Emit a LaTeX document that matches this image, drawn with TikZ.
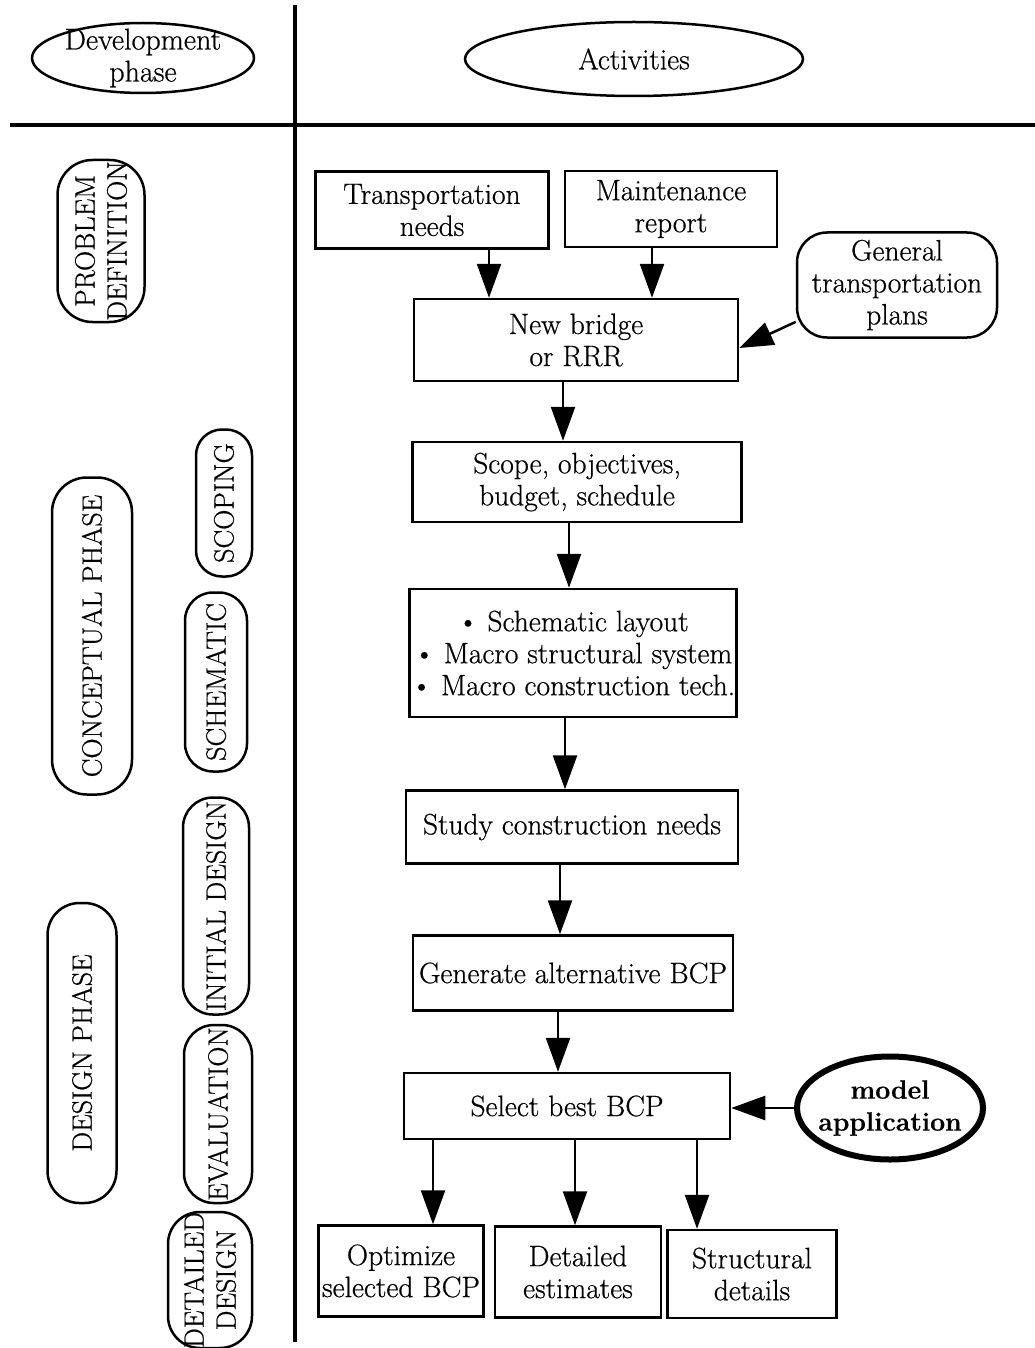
\documentclass[tikz,border=0pt]{standalone}
\usepackage{fontspec}
\setmainfont{Latin Modern Roman}[FakeBold=0.6]
\usetikzlibrary{arrows.meta}
\usetikzlibrary{shapes.geometric}
\tikzset{box/.style = {draw, line width=2.5pt, align=center, inner sep=0pt}}
\tikzset{phase/.style = {draw, line width=2.5pt, align=center, inner sep=0pt, rotate=90,
                         font=\fontsize{28}{32}\selectfont}}
\tikzset{oval/.style = {draw, ellipse, line width=2.5pt, inner sep=0pt}}
\tikzset{arr/.style = {line width=2.5pt, -{Triangle[length=34pt, width=24pt]}}}
\tikzset{sepline/.style = {line width=4.5pt}}

\begin{document}
\begin{tikzpicture}[x=1pt, y=-1pt, font=\fontsize{29.5}{32}\selectfont]
    \useasboundingbox (0, 0) rectangle (1035, 1348);

    % headings
    \draw [sepline] (295, 5) -- (295, 1342);
    \draw [sepline] (10, 125) -- (1035, 125);
    \node [oval, minimum width=222pt, minimum height=70pt,
           label={[align=center, font=\fontsize{30}{32}\selectfont]center:Development\\phase}] (devph) at (143, 58) {};
    \node [oval, minimum width=338pt, minimum height=74pt,
           label={center:Activities}] (activ) at (634, 59) {};

    % phases
    \node [phase, rounded corners=35pt, minimum width=162pt, minimum height=87pt] (probdef) at (101, 241) {PROBLEM\\DEFINITION};
    \node [phase, rounded corners=35pt, minimum width=317pt, minimum height=80pt] (concept) at (92, 636) {CONCEPTUAL PHASE};
    \node [phase, rounded corners=32pt, minimum width=300pt, minimum height=69pt] (design) at (82, 1053) {DESIGN PHASE};
    \node [phase, rounded corners=26pt, minimum width=147pt, minimum height=56pt] (scoping) at (224, 503) {SCOPING};
    \node [phase, rounded corners=28pt, minimum width=179pt, minimum height=62pt] (schematic) at (216, 682) {SCHEMATIC};
    \node [phase, rounded corners=30pt, minimum width=217pt, minimum height=66pt] (initdes) at (216, 906) {INITIAL DESIGN};
    \node [phase, rounded corners=30pt, minimum width=178pt, minimum height=68pt] (evaluat) at (218, 1114) {EVALUATION};
    \node [phase, rounded corners=32pt, minimum width=131pt, minimum height=84pt] (detdes) at (210, 1280) {DETAILED\\DESIGN};

    % activities
    \node [box, minimum width=233pt, minimum height=77pt] (tneeds) at (432, 210) {Transportation\\needs};
    \node [box, minimum width=212pt, minimum height=76pt] (maint) at (671, 209) {Maintenance\\report};
    \node [box, rounded corners=30pt, minimum width=200pt, minimum height=105pt] (general) at (897, 285) {General\\transportation\\plans};
    \node [box, minimum width=324pt, minimum height=82pt] (newbr) at (576, 340) {New bridge\\or RRR};
    \node [box, minimum width=329pt, minimum height=80pt] (scope) at (577, 482) {Scope, objectives,\\budget, schedule};
    \node [box, minimum width=327pt, minimum height=128pt] (schem) at (573, 653)
          {\textbullet{} Schematic layout\\\textbullet{} Macro structural system\\\textbullet{} Macro construction tech.};
    \node [box, minimum width=332pt, minimum height=73pt] (study) at (572, 827) {Study construction needs};
    \node [box, minimum width=320pt, minimum height=75pt] (gen) at (573, 973) {Generate alternative BCP};
    \node [box, minimum width=326pt, minimum height=66pt] (select) at (567, 1106) {Select best BCP};
    \node [oval, line width=6pt, minimum width=186pt, minimum height=103pt,
           label={[align=center, font=\fontsize{26.5}{32}\selectfont\bfseries]center:model\\application}] (model) at (890, 1108) {};
    \node [box, minimum width=165pt, minimum height=91pt] (optim) at (401, 1271) {Optimize\\selected BCP};
    \node [box, minimum width=166pt, minimum height=91pt] (detest) at (578, 1272) {Detailed\\estimates};
    \node [box, minimum width=169pt, minimum height=88pt] (structd) at (752, 1274) {Structural\\details};

    % flow
    \coordinate (a1) at ([xshift=57pt]tneeds.south);
    \coordinate (a2) at ([xshift=-19pt]maint.south);
    \coordinate (a3) at ([xshift=-13pt]newbr.south);
    \coordinate (a4) at ([xshift=-8pt]scope.south);
    \coordinate (a5) at ([xshift=-8pt]schem.south);
    \coordinate (a6) at ([xshift=-12pt]study.south);
    \coordinate (a7) at ([xshift=-15pt]gen.south);
    \draw [arr] (a1) -- (a1 |- newbr.north);
    \draw [arr] (a2) -- (a2 |- newbr.north);
    \draw [arr] (general.200) -- ([yshift=-8pt]newbr.east);
    \draw [arr] (a3) -- (a3 |- scope.north);
    \draw [arr] (a4) -- (a4 |- schem.north);
    \draw [arr] (a5) -- (a5 |- study.north);
    \draw [arr] (a6) -- (a6 |- gen.north);
    \draw [arr] (a7) -- (a7 |- select.north);
    \draw [arr] (model.west) -- (model.west -| select.east);

    \coordinate (b1) at ([xshift=32pt]optim.north);
    \coordinate (b2) at ([xshift=-3pt]detest.north);
    \coordinate (b3) at ([xshift=-55pt]structd.north);
    \draw [arr] (b1 |- select.south) -- (b1);
    \draw [arr] (b2 |- select.south) -- (b2);
    \draw [arr] (b3 |- select.south) -- (b3);

  \end{tikzpicture}
\end{document}
